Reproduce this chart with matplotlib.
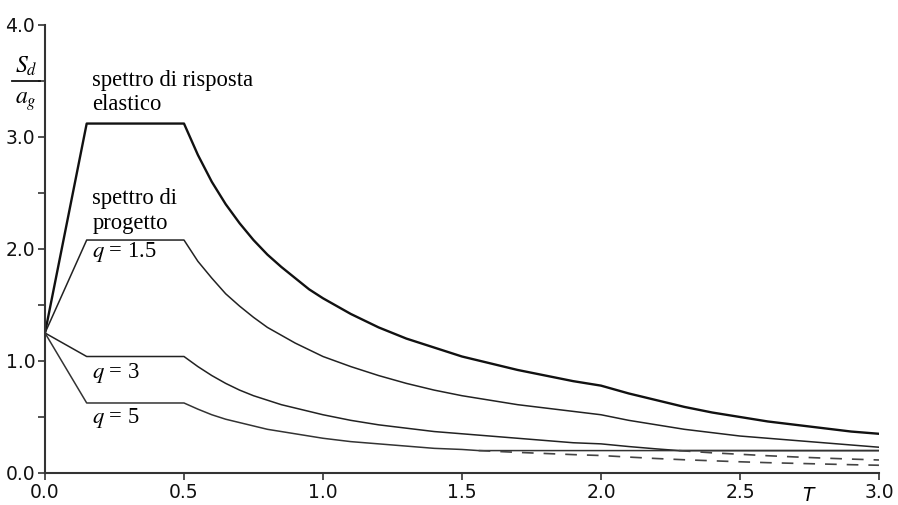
import matplotlib.pyplot as plt

T = [0.0, 0.15, 0.5, 0.55, 0.6, 0.65, 0.7, 0.75, 0.8, 0.85, 0.9, 0.95, 1.0, 1.1, 1.2,
     1.3, 1.4, 1.5, 1.6, 1.7, 1.8, 1.9, 2.0, 2.1, 2.2, 2.3, 2.4, 2.5, 2.6, 2.7, 2.8,
     2.9, 3.0]

# elastic response spectrum Sd/ag
elastic = [1.25, 3.12, 3.12, 2.84, 2.60, 2.40, 2.23, 2.08, 1.95, 1.84, 1.74, 1.64, 1.56,
           1.42, 1.30, 1.20, 1.12, 1.04, 0.98, 0.92, 0.87, 0.82, 0.78, 0.71, 0.65, 0.59,
           0.54, 0.50, 0.46, 0.43, 0.40, 0.37, 0.35]

# design spectrum q = 1.5
q15 = [1.25, 2.08, 2.08, 1.89, 1.74, 1.60, 1.49, 1.39, 1.30, 1.23, 1.16, 1.10, 1.04,
       0.95, 0.87, 0.80, 0.74, 0.69, 0.65, 0.61, 0.58, 0.55, 0.52, 0.47, 0.43, 0.39,
       0.36, 0.33, 0.31, 0.29, 0.27, 0.25, 0.23]

# design spectrum q = 3 (solid part, then lower bound)
T_q3 = [0.0, 0.15, 0.5, 0.55, 0.6, 0.65, 0.7, 0.75, 0.8, 0.85, 0.9, 0.95, 1.0, 1.1, 1.2,
        1.3, 1.4, 1.5, 1.6, 1.7, 1.8, 1.9, 2.0, 2.1, 2.2, 2.28, 3.0]
q3 = [1.25, 1.04, 1.04, 0.95, 0.87, 0.80, 0.74, 0.69, 0.65, 0.61, 0.58, 0.55, 0.52,
      0.47, 0.43, 0.40, 0.37, 0.35, 0.33, 0.31, 0.29, 0.27, 0.26, 0.236, 0.215, 0.20,
      0.20]
# q = 3 below the lower bound (dashed)
T_q3_dash = [2.28, 2.4, 2.5, 2.6, 2.7, 2.8, 2.9, 3.0]
q3_dash = [0.20, 0.18, 0.167, 0.154, 0.143, 0.133, 0.124, 0.116]

# design spectrum q = 5 (solid part, then lower bound)
T_q5 = [0.0, 0.15, 0.5, 0.55, 0.6, 0.65, 0.7, 0.75, 0.8, 0.85, 0.9, 0.95, 1.0, 1.1, 1.2,
        1.3, 1.4, 1.5, 1.56, 3.0]
q5 = [1.25, 0.625, 0.625, 0.57, 0.52, 0.48, 0.45, 0.42, 0.39, 0.37, 0.35, 0.33, 0.31,
      0.28, 0.26, 0.24, 0.22, 0.21, 0.20, 0.20]
# q = 5 below the lower bound (dashed)
T_q5_dash = [1.56, 1.7, 1.8, 1.9, 2.0, 2.1, 2.2, 2.3, 2.4, 2.5, 2.6, 2.7, 2.8, 2.9, 3.0]
q5_dash = [0.20, 0.184, 0.174, 0.164, 0.156, 0.142, 0.129, 0.118, 0.109, 0.100, 0.092,
           0.086, 0.080, 0.074, 0.069]

xticks = [0.0, 0.5, 1.0, 1.5, 2.0, 2.5, 3.0]
xlabels = ['0.0', '0.5', '1.0', '1.5', '2.0', '2.5', '3.0']
yticks = [0.0, 0.5, 1.0, 1.5, 2.0, 2.5, 3.0, 3.5, 4.0]
ylabels = ['0.0', '', '1.0', '', '2.0', '', '3.0', '', '4.0']

plt.rcParams['mathtext.fontset'] = 'stix'

fig = plt.figure(figsize=(8.98, 5.05), dpi=100)
ax = fig.add_axes([0.0501, 0.0634, 0.9287, 0.8871])

# curves
ax.plot(T, elastic, color='#111111', lw=1.7)
ax.plot(T, q15, color='#222222', lw=1.1)
ax.plot(T_q3, q3, color='#222222', lw=1.1)
ax.plot(T_q5, q5, color='#333333', lw=1.1)
ax.plot(T_q3_dash, q3_dash, color='#444444', lw=1.2, dashes=(7, 6))
ax.plot(T_q5_dash, q5_dash, color='#444444', lw=1.2, dashes=(7, 6))

ax.set_xlim(0, 3.0)
ax.set_ylim(0, 4.0)
ax.set_xticks(xticks)
ax.set_xticklabels(xlabels)
ax.set_yticks(yticks)
ax.set_yticklabels(ylabels)

for side in ['top', 'right']:
    ax.spines[side].set_visible(False)
for side in ['left', 'bottom']:
    ax.spines[side].set_color('#333333')
    ax.spines[side].set_linewidth(1.5)
ax.tick_params(direction='out', length=5, width=1.2, color='#333333',
               labelsize=13.5, labelcolor='#111111', pad=2)

# texts
serif = 'Liberation Serif'
fs = 16.3
ax.text(0.17, 3.455, 'spettro di risposta', family=serif, fontsize=fs)
ax.text(0.17, 3.24, 'elastico', family=serif, fontsize=fs)
ax.text(0.17, 2.40, 'spettro di', family=serif, fontsize=fs)
ax.text(0.17, 2.18, 'progetto', family=serif, fontsize=fs)
ax.text(0.17, 1.93, r'$q$ = 1.5', family=serif, fontsize=fs)
ax.text(0.17, 0.85, r'$q$ = 3', family=serif, fontsize=fs)
ax.text(0.17, 0.45, r'$q$ = 5', family=serif, fontsize=fs)

# y label as a fraction Sd / ag
ax.plot([-0.119, -0.018], [3.5, 3.5], color='#111111', lw=1.3, clip_on=False)
ax.text(-0.068, 3.57, r'$S_d$', fontsize=17, ha='center', va='baseline', clip_on=False)
ax.text(-0.068, 3.30, r'$a_g$', fontsize=17, ha='center', va='baseline', clip_on=False)

# x label
ax.text(2.75, -0.12, '$\\mathit{T}$', fontsize=13.5, ha='center', va='top',
        clip_on=False, math_fontfamily='dejavusans')

fig.savefig('out.png', dpi=100)
